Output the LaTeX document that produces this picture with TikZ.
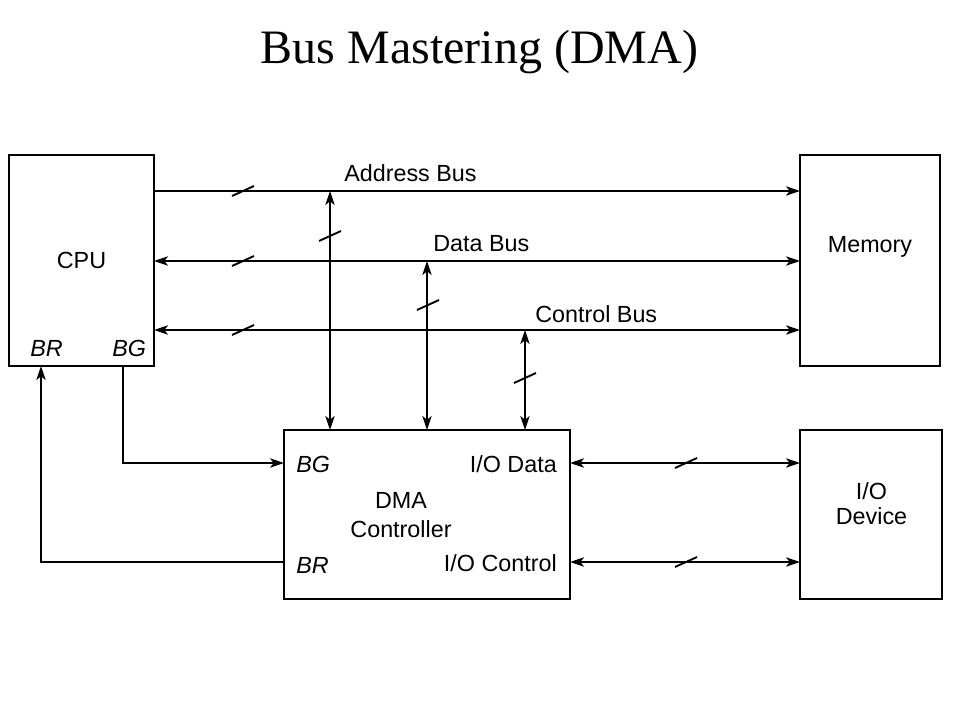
\documentclass[tikz,border=0pt]{standalone}
\usepackage{fontspec}
\setmainfont{Liberation Sans}
\newfontfamily\titlefont{Liberation Serif}
\usetikzlibrary{arrows.meta}
\begin{document}
\begin{tikzpicture}[x=0.75pt,y=-0.75pt,
  box/.style={draw, line width=2pt, inner sep=0pt, outer sep=0pt},
  lbl/.style={font=\fontsize{17.5pt}{21.75pt}\selectfont, inner sep=0pt},
  ilbl/.style={inner sep=0pt, font=\fontsize{17.5pt}{21.75pt}\selectfont\itshape},
  conn/.style={line width=1.4pt},
  >={Stealth[length=10.5pt,width=7pt,inset=2.8pt]},
  tk/.pic={\draw[line width=1.4pt] (-11,5) -- (11,-5);}
]
\fill[white] (0,0) rectangle (960,720);
\useasboundingbox (0,0) rectangle (960,720);

% title
\node[font=\titlefont\fontsize{36pt}{40pt}\selectfont, anchor=base, inner sep=0pt] (title) at (479.5,64) {Bus Mastering (DMA)};

% boxes
\node[box, minimum width=108.75pt, minimum height=158.25pt] (cpu) at (81.5,260.5) {};
\node[box, minimum width=105pt, minimum height=158.25pt] (mem) at (870,260.5) {};
\node[box, minimum width=214.5pt, minimum height=126.75pt] (dma) at (427,514.5) {};
\node[box, minimum width=106.5pt, minimum height=126.75pt] (io) at (871,514.5) {};

% box texts
\node[lbl, anchor=base] (cpul) at (81.5,269) {CPU};
\node[lbl, anchor=base] (meml) at (870,253) {Memory};
\node[ilbl, anchor=base west] (cpubr) at (30,356) {BR};
\node[ilbl, anchor=base west] (cpubg) at (112,356) {BG};
\node[ilbl, anchor=base west] (dmabg) at (296,472) {BG};
\node[ilbl, anchor=base west] (dmabr) at (296,573) {BR};
\node[lbl, anchor=base east] (dmaiod) at (557,472) {I/O Data};
\node[lbl, anchor=base east] (dmaioc) at (557,571) {I/O Control};
\node[lbl, align=center, anchor=center] (dmal) at (401,515) {DMA\\Controller};
\node[lbl, align=center, anchor=center, font=\fontsize{17.5pt}{18.75pt}\selectfont] (iol) at (871.5,504) {I/O\\Device};

% bus levels
\coordinate (ab) at (0,191);
\coordinate (db) at (0,261);
\coordinate (cb) at (0,330);
\coordinate (iod) at (0,463);
\coordinate (ioc) at (0,562);
\coordinate (ja) at (330,191);
\coordinate (jd) at (427,261);
\coordinate (jc) at (525,330);
\coordinate (bgx) at (123,0);
\coordinate (brx) at (41,0);

% buses
\draw[conn,->] (cpu.east |- ab) -- (mem.west |- ab);
\draw[conn,<->] (cpu.east |- db) -- (mem.west |- db);
\draw[conn,<->] (cpu.east |- cb) -- (mem.west |- cb);
\draw[conn,<->] (ja) -- (ja |- dma.north);
\draw[conn,<->] (jd) -- (jd |- dma.north);
\draw[conn,<->] (jc) -- (jc |- dma.north);

% BG / BR
\draw[conn,->] (cpu.south -| bgx) |- (dma.west |- iod);
\draw[conn,->] (dma.west |- ioc) -| (cpu.south -| brx);

% I/O lines
\draw[conn,<->] (dma.east |- iod) -- (io.west |- iod);
\draw[conn,<->] (dma.east |- ioc) -- (io.west |- ioc);

% bus labels
\node[lbl, anchor=base west] (abl) at (344,182) {Address Bus};
\node[lbl, anchor=base west] (dbl) at (433,252) {Data Bus};
\node[lbl, anchor=base west] (cbl) at (535,322) {Control Bus};

% width ticks
\pic at (243,191) {tk};
\pic at (243,261) {tk};
\pic at (243,330) {tk};
\pic at (330,236) {tk};
\pic at (428,305) {tk};
\pic at (525,378) {tk};
\pic at (686,463) {tk};
\pic at (686,562) {tk};
\end{tikzpicture}
\end{document}
